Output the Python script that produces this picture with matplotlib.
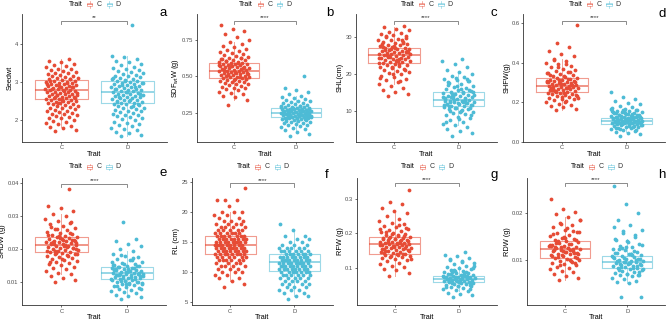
import numpy as np
import matplotlib
matplotlib.use("Agg")
import matplotlib.pyplot as plt
from matplotlib.patches import Rectangle
from matplotlib.lines import Line2D

plt.rcParams['font.family'] = ['Liberation Sans', 'DejaVu Sans']
plt.rcParams['mathtext.fontset'] = 'custom'
plt.rcParams['mathtext.rm'] = 'Liberation Sans'
plt.rcParams['mathtext.it'] = 'Liberation Sans:italic'

# ---------------- data ----------------
groups = ['C', 'D']
legend_title = 'Trait'
xlabel = 'Trait'
panel_letters = ['a', 'b', 'c', 'd', 'e', 'f', 'g', 'h']
ylabels = ['Seedwt', 'SDF$_{\\mathrm{wt}}$W (g)', 'SHL(cm)', 'SHFW(g)',
           'SHDW (g)', 'RL (cm)', 'RFW (g)', 'RDW (g)']
sig_labels = ['**', '****', '****', '****', '****', '****', '****', '****']
sig_y = [4.61, 0.883, 34.3, 0.613, 0.0398, 24.8, 0.347, 0.0266]

yticks = [[2, 3, 4], [0.25, 0.50, 0.75], [10, 20, 30], [0.0, 0.2, 0.4, 0.6],
          [0.01, 0.02, 0.03, 0.04], [5, 10, 15, 20, 25], [0.1, 0.2, 0.3], [0.01, 0.02]]
yticklabels = [['2', '3', '4'], ['0.25', '0.50', '0.75'], ['10', '20', '30'],
               ['0.0', '0.2', '0.4', '0.6'], ['0.01', '0.02', '0.03', '0.04'],
               ['5', '10', '15', '20', '25'], ['0.1', '0.2', '0.3'], ['0.01', '0.02']]

# box statistics (q1, median, q3) per panel
C_q1 = [2.55, 0.488, 23.0, 0.250, 0.0191, 13.0, 0.139, 0.01043]
C_med = [2.79, 0.540, 25.0, 0.282, 0.0211, 14.5, 0.168, 0.0123]
C_q3 = [3.06, 0.592, 26.9, 0.321, 0.0238, 16.0, 0.188, 0.01407]
D_q1 = [2.44, 0.218, 11.4, 0.092, 0.0110, 10.1, 0.057, 0.00835]
D_med = [2.74, 0.250, 13.0, 0.105, 0.0127, 11.7, 0.0665, 0.0095]
D_q3 = [3.03, 0.280, 15.1, 0.122, 0.01455, 13.0, 0.0767, 0.0109]

seedwt_C = np.array("""
1.71 1.74 1.78 1.82 1.85 1.89 1.92 1.95 1.98 2.01 2.04 2.06 2.08 2.11 2.13 2.15 2.17 2.19 2.21 2.23
2.25 2.27 2.29 2.31 2.32 2.34 2.36 2.37 2.39 2.41 2.42 2.44 2.45 2.47 2.48 2.50 2.51 2.52 2.54 2.55
2.56 2.58 2.59 2.60 2.62 2.63 2.64 2.65 2.67 2.68 2.69 2.70 2.72 2.73 2.74 2.75 2.77 2.78 2.79 2.80
2.81 2.83 2.84 2.85 2.86 2.88 2.89 2.90 2.92 2.93 2.94 2.96 2.97 2.98 3.00 3.01 3.03 3.04 3.06 3.07
3.09 3.10 3.12 3.14 3.15 3.17 3.19 3.21 3.23 3.25 3.27 3.29 3.31 3.34 3.36 3.39 3.42 3.45 3.48 3.52
3.56 3.61 2.66 2.71 2.76 2.82 2.87 2.91 2.95 2.99 2.61 2.57 2.53 3.02 3.08 2.46""".split(), dtype=float)
seedwt_D = np.array("""
1.58 1.61 1.65 1.69 1.73 1.77 1.80 1.84 1.87 1.90 1.93 1.96 1.99 2.02 2.05 2.07 2.10 2.12 2.14 2.17
2.19 2.21 2.23 2.25 2.27 2.29 2.31 2.33 2.35 2.37 2.39 2.41 2.42 2.44 2.46 2.47 2.49 2.51 2.52 2.54
2.55 2.57 2.58 2.60 2.61 2.63 2.64 2.66 2.67 2.69 2.70 2.72 2.73 2.74 2.76 2.77 2.79 2.80 2.82 2.83
2.85 2.86 2.88 2.89 2.91 2.92 2.94 2.95 2.97 2.99 3.00 3.02 3.03 3.05 3.07 3.09 3.11 3.13 3.15 3.17
3.19 3.21 3.24 3.26 3.29 3.32 3.35 3.38 3.41 3.45 3.49 3.53 3.57 3.62 3.66 3.70 4.50 2.62 2.68 2.75
2.81 2.87 2.93 2.98 2.53 2.48 2.43 3.04 3.10 2.36""".split(), dtype=float)
sdf_C = np.array("""
0.300 0.340 0.355 0.365 0.375 0.385 0.395 0.403 0.410 0.417 0.423 0.429 0.435 0.440 0.445 0.450 0.455
0.459 0.463 0.467 0.471 0.475 0.479 0.483 0.486 0.489 0.492 0.495 0.498 0.501 0.504 0.507 0.510 0.513
0.516 0.519 0.522 0.525 0.528 0.531 0.534 0.537 0.540 0.543 0.546 0.549 0.552 0.555 0.558 0.561 0.564
0.567 0.570 0.573 0.576 0.579 0.582 0.585 0.588 0.591 0.594 0.598 0.602 0.606 0.610 0.614 0.619 0.624
0.629 0.634 0.640 0.646 0.652 0.659 0.666 0.673 0.681 0.690 0.700 0.710 0.722 0.735 0.750 0.770 0.790
0.810 0.825 0.850 0.497 0.509 0.521 0.533 0.545 0.556 0.568 0.580 0.592 0.604 0.485 0.474 0.616 0.628""".split(), dtype=float)
sdf_D = np.array("""
0.090 0.105 0.118 0.128 0.137 0.145 0.152 0.158 0.163 0.168 0.173 0.177 0.181 0.185 0.189 0.192 0.195
0.198 0.201 0.204 0.207 0.210 0.212 0.214 0.216 0.218 0.220 0.222 0.224 0.226 0.228 0.230 0.232 0.234
0.236 0.238 0.240 0.242 0.244 0.246 0.248 0.250 0.252 0.254 0.256 0.258 0.260 0.262 0.264 0.266 0.268
0.270 0.272 0.274 0.276 0.278 0.280 0.283 0.286 0.289 0.292 0.295 0.298 0.302 0.306 0.310 0.314 0.318
0.323 0.328 0.333 0.339 0.345 0.352 0.360 0.368 0.378 0.390 0.405 0.420 0.500 0.221 0.227 0.233 0.239
0.245 0.251 0.257 0.263 0.269 0.275 0.215 0.209 0.203 0.281 0.288 0.296 0.249 0.237""".split(), dtype=float)
shl_C = np.array("""
14.0 14.6 15.1 15.6 16.2 16.8 17.3 17.8 18.3 18.7 19.1 19.5 19.9 20.2 20.5 20.8 21.1 21.4 21.6 21.9
22.1 22.3 22.5 22.7 22.9 23.1 23.3 23.4 23.6 23.8 23.9 24.1 24.2 24.4 24.5 24.7 24.8 25.0 25.1 25.3
25.4 25.6 25.7 25.9 26.0 26.2 26.3 26.5 26.6 26.8 26.9 27.1 27.3 27.5 27.7 27.9 28.1 28.3 28.5 28.7
29.0 29.2 29.5 29.8 30.1 30.4 30.7 31.0 31.4 31.8 32.2 32.6 33.0 22.0 23.0 24.0 25.2 26.1 27.0 28.0
29.1 24.6 25.5 23.7 26.4 21.0 20.0 19.0 18.0 24.9 25.8 23.5 27.2 28.4 26.7 24.3 22.6 30.2 29.6 27.6""".split(), dtype=float)
shl_D = np.array("""
3.5 4.2 4.8 5.2 5.7 6.2 6.7 7.2 7.7 8.1 8.5 8.9 9.3 9.6 9.9 10.2 10.5 10.7 10.9 11.1 11.3 11.5 11.7 11.9
12.0 12.2 12.4 12.5 12.7 12.8 13.0 13.2 13.3 13.5 13.7 13.8 14.0 14.2 14.4 14.6 14.8 15.0 15.2 15.5 15.7
16.0 16.3 16.6 16.9 17.2 17.6 18.0 18.4 18.8 19.2 19.6 20.1 20.6 21.2 21.9 22.7 23.4 24.0 10.0 11.0 12.1
12.9 13.4 14.1 15.3 16.1 17.0 18.2 19.0 11.6 12.6 13.9 9.0 8.0 7.0 12.3 13.1 14.3 10.4 11.4 15.8 16.7
13.6 12.7 14.7 11.8 9.7 17.8 18.6 10.8 13.9 15.1 12.4""".split(), dtype=float)
shfw_C = np.array("""
0.160 0.167 0.174 0.181 0.187 0.193 0.199 0.204 0.209 0.214 0.218 0.222 0.226 0.230 0.234 0.237 0.240
0.243 0.246 0.249 0.252 0.255 0.258 0.260 0.263 0.265 0.268 0.270 0.272 0.275 0.277 0.279 0.281 0.283
0.286 0.288 0.290 0.293 0.295 0.298 0.300 0.303 0.306 0.309 0.312 0.315 0.318 0.321 0.325 0.329 0.333
0.337 0.342 0.347 0.352 0.358 0.364 0.370 0.377 0.384 0.392 0.401 0.410 0.420 0.432 0.445 0.460 0.480
0.500 0.590 0.245 0.262 0.285 0.296 0.310 0.274 0.256 0.301 0.228 0.340 0.355 0.380 0.220 0.200 0.266
0.280 0.292 0.305 0.319 0.251 0.238 0.335 0.271 0.287 0.314 0.348 0.395 0.415""".split(), dtype=float)
shfw_D = np.array("""
0.030 0.038 0.045 0.050 0.055 0.059 0.063 0.067 0.070 0.073 0.076 0.079 0.081 0.083 0.085 0.087 0.089
0.091 0.093 0.094 0.096 0.097 0.099 0.100 0.102 0.103 0.105 0.106 0.108 0.109 0.111 0.112 0.114 0.115
0.117 0.119 0.121 0.123 0.125 0.127 0.129 0.132 0.134 0.137 0.140 0.143 0.146 0.149 0.152 0.155 0.158
0.161 0.165 0.170 0.176 0.183 0.190 0.198 0.207 0.216 0.226 0.250 0.095 0.101 0.107 0.113 0.118 0.124
0.131 0.088 0.078 0.068 0.060 0.150 0.156 0.142 0.136 0.128 0.110 0.104 0.098 0.092 0.086 0.116 0.120
0.133 0.145 0.153 0.074 0.065 0.126 0.139 0.147 0.159 0.162 0.168""".split(), dtype=float)
shdw_C = np.array("""
0.0100 0.0106 0.0112 0.0118 0.0124 0.0129 0.0134 0.0139 0.0143 0.0147 0.0151 0.0155 0.0159 0.0162
0.0165 0.0168 0.0171 0.0174 0.0177 0.0180 0.0182 0.0184 0.0186 0.0188 0.0190 0.0192 0.0194 0.0196
0.0198 0.0200 0.0202 0.0204 0.0206 0.0208 0.0210 0.0212 0.0214 0.0216 0.0218 0.0220 0.0222 0.0224
0.0226 0.0228 0.0230 0.0232 0.0234 0.0236 0.0238 0.0241 0.0244 0.0247 0.0250 0.0253 0.0257 0.0261
0.0265 0.0270 0.0275 0.0280 0.0286 0.0292 0.0299 0.0307 0.0315 0.0323 0.0331 0.0382 0.0189 0.0199
0.0209 0.0219 0.0229 0.0239 0.0195 0.0205 0.0215 0.0225 0.0170 0.0160 0.0250 0.0260 0.0185 0.0211
0.0221 0.0203 0.0233 0.0243 0.0178 0.0193 0.0217 0.0227 0.0268 0.0283""".split(), dtype=float)
shdw_D = np.array("""
0.0050 0.0054 0.0058 0.0062 0.0066 0.0070 0.0074 0.0077 0.0080 0.0083 0.0086 0.0089 0.0092 0.0094
0.0096 0.0098 0.0100 0.0102 0.0104 0.0106 0.0108 0.0110 0.0112 0.0113 0.0115 0.0117 0.0118 0.0120
0.0122 0.0123 0.0125 0.0126 0.0128 0.0129 0.0131 0.0133 0.0134 0.0136 0.0138 0.0140 0.0142 0.0144
0.0146 0.0148 0.0150 0.0153 0.0156 0.0159 0.0162 0.0166 0.0170 0.0175 0.0180 0.0186 0.0193 0.0200
0.0208 0.0216 0.0225 0.0230 0.0282 0.0111 0.0116 0.0121 0.0127 0.0132 0.0137 0.0143 0.0105 0.0099
0.0093 0.0087 0.0149 0.0155 0.0160 0.0168 0.0124 0.0119 0.0130 0.0139 0.0109 0.0114 0.0126 0.0135
0.0145 0.0101 0.0095 0.0152 0.0172 0.0183 0.0078 0.0141 0.0122""".split(), dtype=float)
# root length was recorded in 0.5 cm steps: value / count tables
rl_values = [5.5, 6.0, 6.5, 7.0, 7.5, 8.0, 8.5, 9.0, 9.5, 10.0, 10.5, 11.0, 11.5, 12.0, 12.5, 13.0,
             13.5, 14.0, 14.5, 15.0, 15.5, 16.0, 16.5, 17.0, 17.5, 18.0, 18.5, 19.0, 19.5, 20.0, 20.5,
             21.0, 21.5, 22.0, 22.5, 23.0, 23.5, 24.0]
rl_C_counts = [0, 0, 0, 0, 1, 1, 1, 2, 2, 3, 3, 4, 4, 6, 6, 8, 8, 9, 9, 9, 8, 7, 6, 5, 4, 4, 3, 2, 2,
               3, 0, 1, 0, 3, 0, 0, 0, 1]
rl_D_counts = [1, 2, 2, 3, 3, 4, 4, 5, 6, 7, 8, 9, 9, 9, 8, 7, 6, 5, 3, 2, 2, 2, 0, 1, 0, 1, 0, 0, 0,
               0, 0, 0, 0, 0, 0, 0, 0, 0]
rfw_C = np.array("""
0.075 0.085 0.092 0.097 0.102 0.106 0.110 0.114 0.118 0.121 0.124 0.127 0.130 0.132 0.134 0.136 0.138
0.140 0.142 0.144 0.146 0.148 0.150 0.152 0.153 0.155 0.156 0.158 0.159 0.161 0.162 0.164 0.165 0.166
0.168 0.169 0.170 0.172 0.173 0.174 0.176 0.177 0.179 0.180 0.182 0.184 0.186 0.188 0.190 0.192 0.194
0.197 0.200 0.203 0.206 0.209 0.213 0.217 0.221 0.226 0.231 0.237 0.243 0.250 0.258 0.266 0.275 0.285
0.292 0.325 0.141 0.147 0.157 0.163 0.167 0.171 0.175 0.178 0.183 0.187 0.139 0.133 0.125 0.196 0.205
0.215 0.160 0.154 0.181 0.185 0.149 0.171 0.143 0.191 0.199 0.211 0.224""".split(), dtype=float)
rfw_D = np.array("""
0.015 0.019 0.023 0.027 0.031 0.034 0.037 0.040 0.043 0.045 0.047 0.049 0.051 0.053 0.054 0.056 0.057
0.058 0.060 0.061 0.062 0.063 0.064 0.065 0.066 0.067 0.068 0.069 0.070 0.071 0.072 0.073 0.074 0.075
0.076 0.077 0.079 0.081 0.083 0.085 0.087 0.089 0.092 0.095 0.098 0.101 0.105 0.109 0.113 0.118 0.123
0.128 0.133 0.138 0.145 0.055 0.059 0.0625 0.0655 0.0685 0.0715 0.0745 0.078 0.080 0.050 0.046 0.042
0.088 0.094 0.100 0.066 0.060 0.070 0.064 0.072 0.082 0.086 0.052 0.058 0.067 0.076 0.091 0.104 0.115
0.126 0.038 0.061""".split(), dtype=float)
rdw_C = np.array("""
0.0058 0.0062 0.0066 0.0070 0.0074 0.0077 0.0080 0.0083 0.0086 0.0089 0.0092 0.0094 0.0096 0.0098
0.0100 0.0102 0.0104 0.0106 0.0108 0.0110 0.0112 0.0114 0.0115 0.0117 0.0119 0.0120 0.0122 0.0123
0.0125 0.0126 0.0128 0.0130 0.0132 0.0134 0.0136 0.0138 0.0140 0.0142 0.0145 0.0148 0.0151 0.0154
0.0157 0.0161 0.0165 0.0170 0.0175 0.0180 0.0186 0.0192 0.0198 0.0204 0.0210 0.0232 0.0101 0.0107
0.0113 0.0118 0.0121 0.0124 0.0127 0.0131 0.0135 0.0139 0.0144 0.0150 0.0109 0.0097 0.0090 0.0160
0.0168 0.0129 0.0116 0.0111 0.0133 0.0122 0.0141 0.0105 0.0147 0.0155 0.0163 0.0178 0.0185 0.0125
0.0137 0.0093 0.0119 0.0130""".split(), dtype=float)
rdw_D = np.array("""
0.0020 0.0021 0.0050 0.0053 0.0056 0.0059 0.0062 0.0065 0.0067 0.0069 0.0071 0.0073 0.0075 0.0077
0.0079 0.0081 0.0082 0.0084 0.0085 0.0087 0.0088 0.0090 0.0091 0.0092 0.0094 0.0095 0.0096 0.0098
0.0099 0.0100 0.0102 0.0103 0.0105 0.0107 0.0109 0.0111 0.0113 0.0115 0.0118 0.0121 0.0124 0.0127
0.0131 0.0135 0.0140 0.0145 0.0150 0.0157 0.0165 0.0175 0.0185 0.0200 0.0220 0.0258 0.0083 0.0086
0.0089 0.0093 0.0097 0.0101 0.0104 0.0108 0.0112 0.0078 0.0074 0.0070 0.0116 0.0120 0.0126 0.0133
0.0093 0.0099 0.0088 0.0096 0.0106 0.0110 0.0091 0.0102 0.0138 0.0143 0.0153 0.0162 0.0080 0.0114
0.0123 0.0068 0.0129 0.0170""".split(), dtype=float)

rl_C = np.repeat(rl_values, rl_C_counts)
rl_D = np.repeat(rl_values, rl_D_counts)
points_C = [seedwt_C, sdf_C, shl_C, shfw_C, shdw_C, rl_C, rfw_C, rdw_C]
points_D = [seedwt_D, sdf_D, shl_D, shfw_D, shdw_D, rl_D, rfw_D, rdw_D]

# ---------------- layout / style ----------------
W, H = 669, 320
colors = ['#E64B35', '#4DBBD5']
# axes extents in pixels: (left, right, top, bottom)
rects_px = [(22, 166.7, 14, 141.7), (196.7, 333, 14, 141.7), (355.5, 496.7, 14, 141.7), (523.3, 665, 14, 141.7),
            (22.3, 166, 178, 305), (191.7, 333, 178, 305), (356.7, 497, 178, 305), (527, 665, 178, 305)]
ylims = [(1.427, 4.80), (0.05, 0.929), (1.85, 36.1), (0.0, 0.647),
         (0.0031, 0.0415), (4.45, 25.7), (-0.009, 0.361), (0.00036, 0.0276)]
letter_pos = [(163, 13), (330, 13), (494, 13), (662, 14), (163, 173), (327, 175), (494, 175), (662, 175)]
legend_y = [4.3, 4.3, 4.3, 4.3, 166.7, 166.7, 166.7, 166.7]
axcol = '#333333'
tickcol = '#4D4D4D'
JIT = 0.25
PS = 7.5

fig = plt.figure(figsize=(W / 100, H / 100), dpi=100)


def fx(px):
    return px / W


def fy(py):
    return 1 - py / H


for k in range(8):
    l, r, t, b = rects_px[k]
    ax = fig.add_axes([fx(l), fy(b), (r - l) / W, (b - t) / H])
    ax.set_xlim(0.4, 2.6)
    ax.set_ylim(*ylims[k])
    stats_all = [(C_q1[k], C_med[k], C_q3[k]), (D_q1[k], D_med[k], D_q3[k])]
    for gi, vals in enumerate([points_C[k], points_D[k]]):
        v = np.asarray(vals, dtype=float)
        n = len(v)
        offs = (((np.arange(n) * 0.6180339887 + 0.31) % 1.0) - 0.5) * 2 * JIT
        ax.scatter(gi + 1 + offs, v, s=PS, c=colors[gi], linewidths=0, zorder=2)
        q1, med, q3 = stats_all[gi]
        iqr = q3 - q1
        lo = v[v >= q1 - 1.5 * iqr].min()
        hi = v[v <= q3 + 1.5 * iqr].max()
        st = [dict(q1=q1, med=med, q3=q3, whislo=lo, whishi=hi, fliers=[])]
        ax.bxp(st, positions=[gi + 1], widths=0.8, showcaps=False, showfliers=False,
               manage_ticks=False,
               boxprops=dict(color=colors[gi], lw=0.8, alpha=0.55),
               whiskerprops=dict(color=colors[gi], lw=0.7, alpha=0.5),
               medianprops=dict(color=colors[gi], lw=1.1, alpha=0.75),
               zorder=3)
    # significance bracket
    yr = ylims[k][1] - ylims[k][0]
    yb = sig_y[k]
    tk = 0.025 * yr
    ax.plot([1, 1, 2, 2], [yb - tk, yb, yb, yb - tk], color='#777777', lw=0.6, zorder=4,
            solid_joinstyle='miter')
    ax.annotate(sig_labels[k], xy=(1.5, yb), xytext=(0, 0.5), textcoords='offset points',
                ha='center', va='bottom', fontsize=4.5, color='#333333')
    # axes styling
    for s in ['top', 'right']:
        ax.spines[s].set_visible(False)
    for s in ['left', 'bottom']:
        ax.spines[s].set_color(axcol)
        ax.spines[s].set_linewidth(0.6)
    ax.set_xticks([1, 2])
    ax.set_xticklabels(groups)
    ax.set_yticks(yticks[k])
    ax.set_yticklabels(yticklabels[k])
    ax.tick_params(axis='both', length=1.6, width=0.5, color=axcol, labelsize=4.2,
                   labelcolor=tickcol, pad=1)
    ax.set_xlabel(xlabel, fontsize=5.3, labelpad=0.5)
    ax.set_ylabel(ylabels[k], fontsize=5.3, labelpad=0.8)
    ax.patch.set_alpha(0)

    # legend (manual, ggplot-style horizontal)
    cx = (l + r) / 2
    ly = legend_y[k]
    fig.text(fx(cx - 11.6), fy(ly), legend_title, ha='right', va='center', fontsize=5)
    for gi, (dx_key, dx_lab) in enumerate([(-4.5, 4.9), (14.9, 24.0)]):
        kx = cx + dx_key
        col = colors[gi]
        fig.add_artist(Rectangle((fx(kx - 2.6), fy(ly + 1.8)), 5.2 / W, 3.6 / H,
                                 transform=fig.transFigure, fill=False, edgecolor=col,
                                 lw=0.5, alpha=0.6))
        fig.add_artist(Line2D([fx(kx - 2.6), fx(kx + 2.6)], [fy(ly), fy(ly)],
                              transform=fig.transFigure, color=col, lw=0.6, alpha=0.7))
        fig.add_artist(Line2D([fx(kx), fx(kx)], [fy(ly - 3.2), fy(ly - 1.8)],
                              transform=fig.transFigure, color=col, lw=0.5, alpha=0.6))
        fig.add_artist(Line2D([fx(kx), fx(kx)], [fy(ly + 1.8), fy(ly + 3.2)],
                              transform=fig.transFigure, color=col, lw=0.5, alpha=0.6))
        fig.text(fx(cx + dx_lab), fy(ly), groups[gi], ha='center', va='center', fontsize=5,
                 color='#333333')
    px, py = letter_pos[k]
    fig.text(fx(px), fy(py), panel_letters[k], ha='center', va='center', fontsize=9.5)

fig.savefig('out.png', dpi=100)
